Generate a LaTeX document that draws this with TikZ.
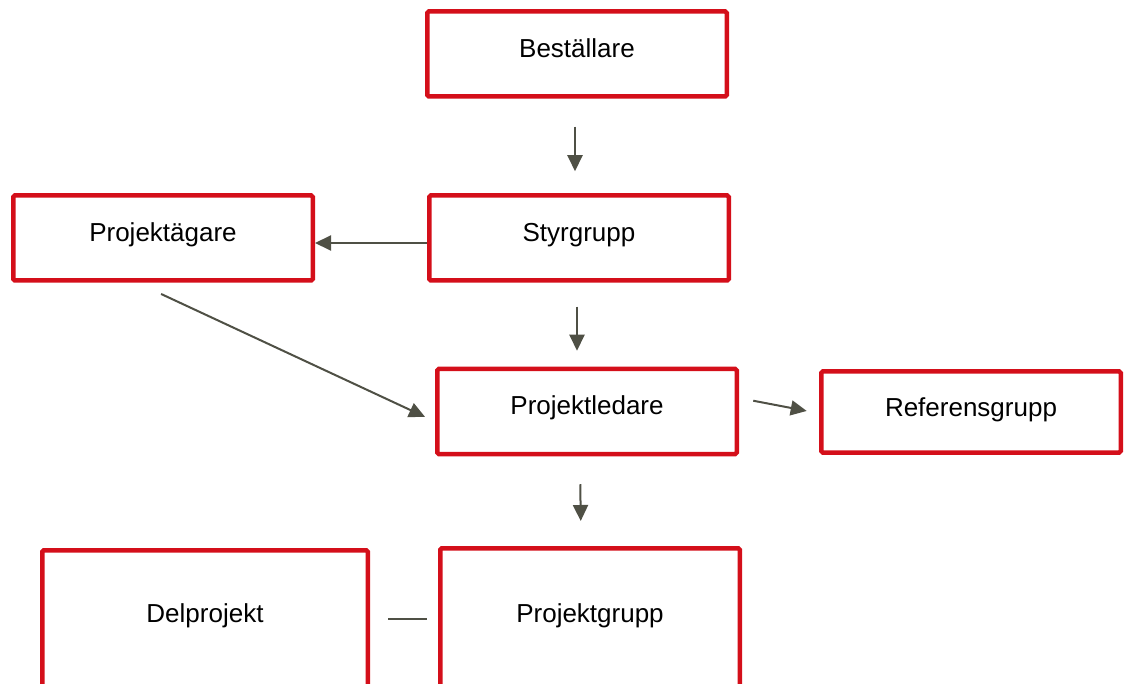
\documentclass[tikz,border=0pt]{standalone}
\usepackage{fontspec}
\setmainfont{Liberation Sans}
\usetikzlibrary{arrows.meta}

\definecolor{boxred}{HTML}{D40F1A}
\definecolor{linegray}{HTML}{4F5045}

\tikzset{
  orgbox/.style={draw=boxred, line width=4.5pt, rounded corners=1.5pt, inner sep=0pt,
    minimum width=299.5pt, text height=46pt, text depth=39pt,
    font=\fontsize{26}{30}\selectfont},
  link/.style={draw=linegray, line width=2pt, -{Triangle[length=16pt,width=15pt]}},
}

\begin{document}
\begin{tikzpicture}[x=1pt,y=-1pt]
              \useasboundingbox (0,0) rectangle (1130,684);
              \clip (0,0) rectangle (1130,684);

              % the boxes
              \node[orgbox] (bst) at (577,54) {Beställare};
              \node[orgbox] (styr) at (579,238) {Styrgrupp};
              \node[orgbox] (pag) at (163,238) {Projektägare};
              \node[orgbox] (pl) at (587,411.5) {Projektledare};
              \node[orgbox, text height=45pt, text depth=36pt] (ref) at (971,412) {Referensgrupp};
              \node[orgbox, minimum width=325.5pt, text height=72pt, text depth=80pt] (del) at (205,626.25) {Delprojekt};
              \node[orgbox, text height=74pt, text depth=78pt] (pg) at (590,624.25) {Projektgrupp};

              % the connectors
              \draw[link, shorten <=28pt, shorten >=22pt] ([xshift=-2pt]bst.south) -- ([xshift=-2pt]bst.south |- styr.north);
              \draw[link] ([yshift=-5pt]styr.west) -- ([yshift=-5pt]pag.east);
              \draw[link, shorten <=24pt, shorten >=16pt] ([xshift=-2pt]styr.south) -- ([xshift=-2pt]styr.south |- pl.north);
              \draw[link, shorten <=26.6pt, shorten >=11pt] ([xshift=-26pt]pag.south) -- ([yshift=-10pt]pl.west);
              \draw[link, shorten <=14.5pt, shorten >=12.5pt] ([yshift=13.5pt]pl.east) -- ([yshift=-1.3pt]ref.west);
              \draw[link, shorten <=28pt, shorten >=25pt] ([xshift=-7pt]pl.south) -- ([xshift=-9pt]pg.north);
              \draw[draw=linegray, line width=2pt, shorten <=18pt, shorten >=11pt] ([yshift=7pt]del.east) -- ([yshift=7pt]del.east -| pg.west);
            \end{tikzpicture}
\end{document}
